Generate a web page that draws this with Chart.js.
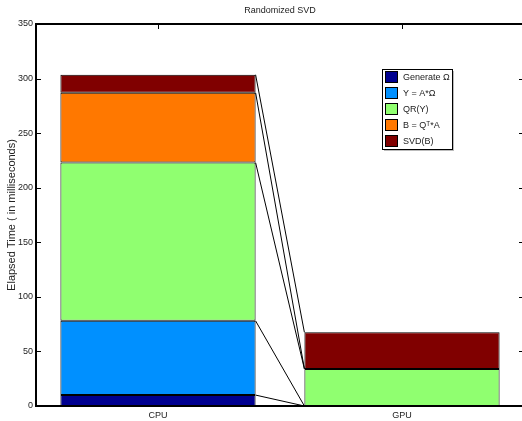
<!DOCTYPE html>
<html>
<head>
<meta charset="utf-8">
<script src="https://cdn.jsdelivr.net/npm/chart.js@4"></script>
<style>
  html, body { margin: 0; padding: 0; background: #fff; overflow: hidden; }
</style>
</head>
<body>
<canvas id="svdChart" width="530" height="421"></canvas>
<script>
/* Randomized SVD timing, stacked bars */
const platforms = ["CPU", "GPU"];
const stepNames = ["Generate Ω", "Y = A*Ω", "QR(Y)", "B = Qᵀ*A", "SVD(B)"];
const stepColors = ["#000090", "#0090ff", "#90ff70", "#ff7800", "#800000"];
const generateTimes = [10, 0];
const sampleTimes = [68, 0];
const qrTimes = [145, 34];
const projectTimes = [64, 0];
const smallSvdTimes = [16.5, 33.5];
const yTicks = [0, 50, 100, 150, 200, 250, 300, 350];

const FONT = "'Liberation Sans', Arial, sans-serif";
const seriesValues = [generateTimes, sampleTimes, qrTimes, projectTimes, smallSvdTimes];

// frame, inward ticks, title and the connecting lines between the stacks
const framePlugin = {
  id: "frame",
  afterDatasetsDraw(chart) {
    const ctx = chart.ctx;
    ctx.save();
    ctx.strokeStyle = "#000";
    ctx.lineWidth = 1;
    chart.data.datasets.forEach(function (ds, i) {
      const meta = chart.getDatasetMeta(i);
      const a = meta.data[0], b = meta.data[1];
      ctx.beginPath();
      ctx.moveTo(a.x + a.width / 2, a.y);
      ctx.lineTo(b.x - b.width / 2, b.y);
      ctx.stroke();
    });
    ctx.restore();
  },
  afterDraw(chart) {
    const ctx = chart.ctx;
    const area = chart.chartArea;
    const yScale = chart.scales.y, xScale = chart.scales.x;
    ctx.save();
    ctx.strokeStyle = "#000";
    ctx.lineWidth = 1;
    yTicks.forEach(function (v) {
      const y = Math.round(yScale.getPixelForValue(v)) + 0.5;
      ctx.beginPath();
      ctx.moveTo(area.left, y); ctx.lineTo(area.left + 5, y);
      ctx.moveTo(area.right, y); ctx.lineTo(area.right - 5, y);
      ctx.stroke();
    });
    platforms.forEach(function (p, i) {
      const x = Math.round(xScale.getPixelForValue(i)) + 0.5;
      ctx.beginPath();
      ctx.moveTo(x, area.top); ctx.lineTo(x, area.top + 5);
      ctx.stroke();
    });
    ctx.lineWidth = 2;
    ctx.strokeRect(area.left, area.top, area.right - area.left, area.bottom - area.top);

    ctx.fillStyle = "#222";
    ctx.font = "9px " + FONT;
    ctx.textAlign = "center";
    ctx.textBaseline = "middle";
    ctx.fillText("Randomized SVD", (area.left + area.right) / 2, 11);

    // legend
    const lx = 382, ly = 69, lw = 70, lh = 80, row = 16;
    ctx.fillStyle = "#bbb";
    ctx.fillRect(lx + 2, ly + 2, lw, lh);
    ctx.fillStyle = "#fff";
    ctx.fillRect(lx, ly, lw, lh);
    ctx.lineWidth = 1;
    ctx.strokeRect(lx + 0.5, ly + 0.5, lw, lh);
    ctx.textAlign = "left";
    chart.data.datasets.forEach(function (ds, i) {
      const cy = ly + 8 + i * row;
      ctx.fillStyle = ds.backgroundColor;
      ctx.fillRect(lx + 3, cy - 6, 13, 12);
      ctx.strokeStyle = "#000";
      ctx.strokeRect(lx + 3.5, cy - 5.5, 12, 11);
      ctx.fillStyle = "#222";
      ctx.fillText(ds.label, lx + 21, cy + 1);
    });
    ctx.restore();
  }
};

new Chart(document.getElementById("svdChart"), {
  type: "bar",
  data: {
    labels: platforms,
    datasets: stepNames.map(function (name, i) {
      return {
        label: name,
        data: seriesValues[i],
        backgroundColor: stepColors[i],
        borderColor: "#000",
        borderWidth: 1,
        borderSkipped: false,
        barPercentage: 0.8,
        categoryPercentage: 1.0
      };
    })
  },
  options: {
    responsive: false,
    animation: false,
    layout: { padding: { top: 24, right: 6, left: 0, bottom: 0 } },
    plugins: {
      legend: { display: false },
      tooltip: { enabled: false },
      title: { display: false }
    },
    scales: {
      x: {
        stacked: true,
        grid: { display: false, drawTicks: false },
        border: { display: false },
        ticks: { color: "#222", font: { family: FONT, size: 9 }, padding: 4 },
        afterFit: function (scale) { scale.height = 15; }
      },
      y: {
        stacked: true,
        min: 0,
        max: 350,
        grid: { display: false, drawTicks: false },
        border: { display: false },
        afterBuildTicks: function (scale) {
          scale.ticks = yTicks.map(function (v) { return { value: v }; });
        },
        ticks: { color: "#222", font: { family: FONT, size: 9 }, padding: 3 },
        title: {
          display: true,
          text: "Elapsed Time ( in milliseconds)",
          color: "#222",
          font: { family: FONT, size: 11 },
          padding: { top: 5, bottom: 0 }
        },
        afterFit: function (scale) { scale.width = 36; }
      }
    }
  },
  plugins: [framePlugin]
});
</script>
</body>
</html>
